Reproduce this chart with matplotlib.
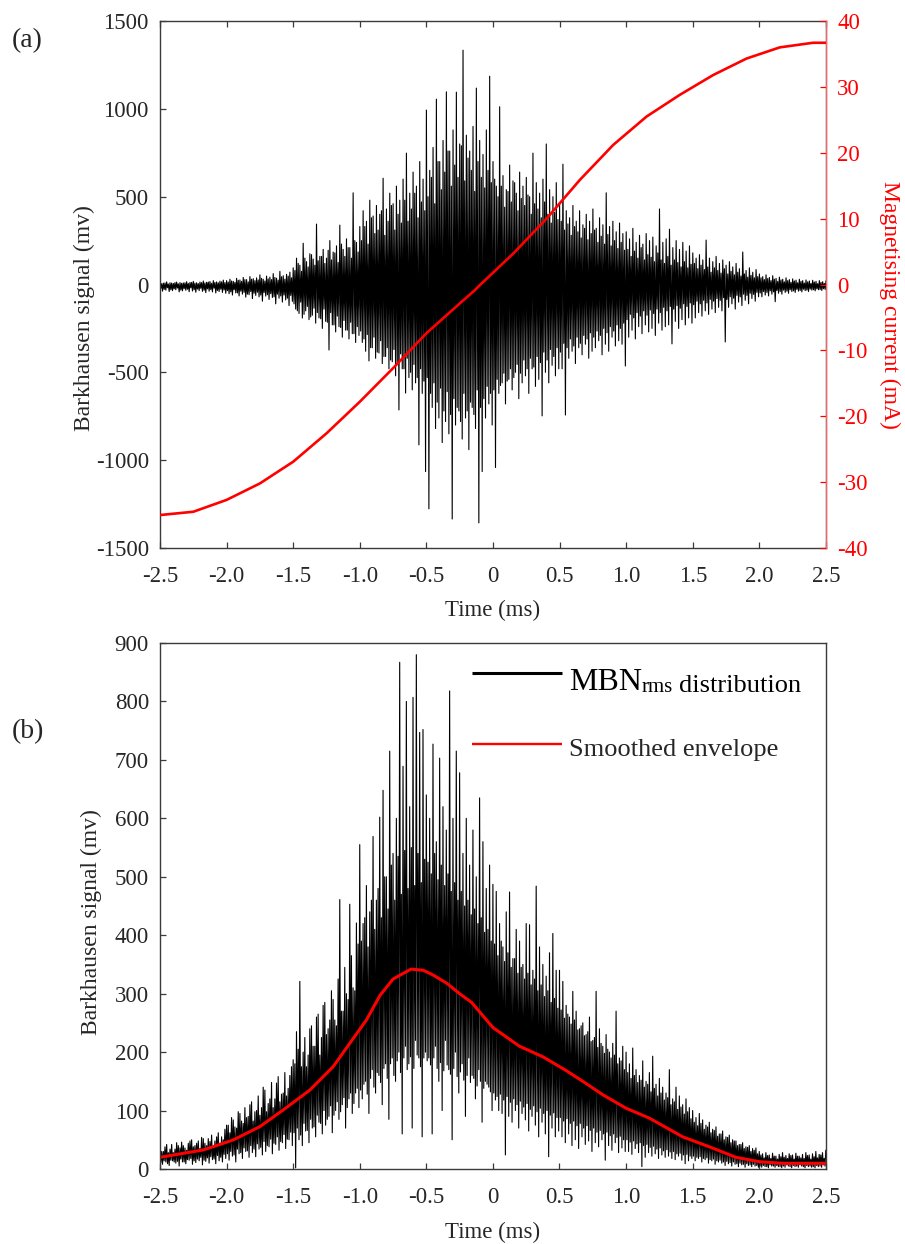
import numpy as np
import matplotlib
matplotlib.use("Agg")
import matplotlib.pyplot as plt

plt.rcParams['font.family'] = ['Liberation Serif', 'DejaVu Serif']
plt.rcParams['axes.unicode_minus'] = False

# ---------------- data ----------------
time_ticks = [-2.5, -2.0, -1.5, -1.0, -0.5, 0.0, 0.5, 1.0, 1.5, 2.0, 2.5]
time_tick_labels = ['-2.5', '-2.0', '-1.5', '-1.0', '-0.5', '0', '0.5', '1.0', '1.5', '2.0', '2.5']

# one record every 0.025 ms: peak, inner low, inner high, trough
t_peak = np.linspace(-2.5, 2.5, 201)
t_inner_low = t_peak[:-1] + 0.00625
t_inner_high = t_peak[:-1] + 0.0125
t_trough = t_peak[:-1] + 0.01875

# (a) raw Barkhausen signal (mV)
mbn_peaks = [
    12, 8, 15, 10, 6, 14, 11, 9, 16, 12, 18, 10, 14, 20, 13, 17, 22, 15, 19, 25,
    22, 30, 18, 35, 26, 40, 28, 45, 33, 38, 55, 30, 48, 42, 62, 36, 75, 50, 58, 70,
    95, 150, 110, 235, 130, 175, 145, 344, 160, 200, 150, 250, 185, 220, 338, 200, 260, 210, 522, 240,
    330, 420, 360, 480, 390, 450, 400, 605, 430, 520, 460, 560, 480, 600, 748, 520, 640, 560, 700, 600,
    993, 650, 780, 1055, 700, 820, 1097, 760, 880, 1095, 800, 1334, 850, 760, 900, 1118, 820, 740, 880, 1186,
    700, 560, 1012, 620, 540, 680, 590, 520, 640, 560, 610, 500, 748, 580, 520, 600, 800, 540, 500, 580,
    460, 685, 420, 380, 450, 360, 420, 340, 400, 360, 430, 320, 380, 340, 522, 330, 360, 300, 350, 290,
    300, 260, 320, 240, 280, 230, 290, 250, 270, 220, 430, 240, 260, 315, 210, 250, 200, 240, 190, 220,
    180, 150, 170, 140, 253, 150, 130, 160, 120, 140, 110, 130, 100, 120, 90, 185, 80, 95, 70, 85,
    60, 45, 55, 40, 50, 35, 42, 30, 38, 28, 32, 25, 30, 22, 26, 20, 24, 18, 22, 16, 20,
]
mbn_inner_low = [
    -22, -28, -18, -30, -25, -20, -32, -24, -27, -19, -30, -26, -22, -33, -25, -29, -21, -34, -27, -31,
    -35, -42, -30, -48, -38, -45, -55, -40, -50, -44, -60, -46, -58, -52, -70, -55, -65, -60, -78, -62,
    -110, -150, -100, -170, -125, -185, -135, -160, -195, -140, -215, -160, -230, -180, -245, -205, -260, -215, -280, -240,
    -265, -310, -285, -360, -300, -385, -320, -410, -360, -430, -370, -455, -395, -480, -420, -500, -455, -530, -480, -550,
    -530, -620, -560, -670, -590, -720, -610, -740, -650, -700, -780, -620, -720, -670, -740, -600, -700, -650, -580, -620,
    -600, -540, -575, -505, -550, -480, -530, -455, -505, -430, -480, -420, -470, -410, -445, -385, -430, -370, -410, -360,
    -385, -335, -360, -310, -350, -300, -335, -290, -310, -275, -300, -265, -290, -250, -275, -240, -265, -230, -250, -220,
    -200, -170, -190, -160, -180, -150, -175, -145, -165, -140, -160, -130, -150, -125, -140, -120, -135, -110, -125, -105,
    -115, -95, -110, -90, -105, -85, -95, -80, -90, -75, -85, -70, -78, -62, -70, -55, -62, -50, -56, -45,
    -48, -40, -45, -36, -42, -34, -40, -32, -38, -30, -36, -28, -34, -27, -32, -26, -30, -25, -29, -24,
]
mbn_inner_high = [
    5, 9, 3, 8, 11, 4, 7, 10, 6, 12, 8, 5, 11, 9, 14, 7, 12, 10, 15, 11,
    14, 20, 12, 24, 18, 28, 15, 30, 22, 26, 35, 20, 32, 28, 40, 25, 44, 30, 48, 38,
    80, 120, 75, 150, 100, 170, 110, 135, 160, 120, 195, 140, 180, 125, 230, 160, 210, 150, 250, 185,
    250, 330, 230, 380, 290, 310, 420, 280, 360, 450, 310, 400, 350, 480, 360, 430, 520, 380, 470, 420,
    500, 610, 460, 700, 540, 640, 760, 560, 680, 610, 790, 590, 720, 650, 530, 700, 610, 550, 650, 580,
    600, 500, 560, 440, 530, 470, 580, 420, 490, 450, 510, 400, 460, 430, 380, 470, 400, 350, 410, 370,
    360, 310, 345, 280, 330, 300, 265, 320, 255, 290, 310, 240, 275, 230, 285, 220, 250, 205, 240, 195,
    200, 160, 190, 150, 210, 140, 170, 155, 130, 180, 140, 120, 160, 110, 140, 125, 100, 130, 95, 115,
    120, 90, 110, 85, 100, 70, 95, 80, 65, 90, 60, 75, 55, 70, 48, 60, 42, 52, 38, 45,
    38, 28, 34, 22, 30, 18, 26, 15, 22, 12, 20, 10, 18, 8, 15, 6, 14, 5, 12, 6,
]
mbn_troughs = [
    -38, -32, -40, -35, -30, -42, -36, -33, -41, -37, -44, -35, -39, -46, -38, -42, -48, -40, -45, -50,
    -52, -60, -48, -65, -55, -72, -58, -80, -62, -70, -95, -66, -85, -74, -110, -78, -100, -88, -120, -96,
    -140, -165, -191, -150, -200, -175, -220, -190, -250, -210, -373, -230, -270, -240, -300, -260, -310, -280, -330, -290,
    -330, -380, -435, -360, -420, -390, -450, -410, -480, -440, -520, -714, -480, -618, -530, -600, -560, -913, -620, -1065,
    -1277, -700, -820, -760, -900, -780, -850, -1335, -800, -720, -880, -760, -940, -700, -820, -1357, -1065, -760, -680, -800,
    -1042, -620, -560, -680, -540, -600, -500, -650, -560, -520, -620, -480, -580, -540, -748, -500, -560, -460, -520, -480,
    -480, -743, -420, -380, -450, -360, -400, -340, -420, -380, -360, -320, -400, -340, -380, -300, -350, -320, -340, -464,
    -300, -260, -310, -240, -280, -230, -270, -250, -290, -220, -260, -240, -230, -338, -210, -250, -200, -230, -190, -220,
    -190, -160, -180, -150, -170, -140, -160, -130, -150, -327, -130, -110, -140, -100, -120, -90, -110, -80, -95, -70,
    -70, -60, -65, -55, -98, -50, -55, -45, -50, -40, -45, -38, -42, -35, -40, -32, -36, -30, -34, -28,
]

# (a) magnetising current (mA)
current_time = [-2.5, -2.25, -2.0, -1.75, -1.5, -1.25, -1.0, -0.75, -0.5, -0.248, -0.135,
                -0.098, 0.152, 0.402, 0.653, 0.903, 1.153, 1.403, 1.653, 1.903, 2.153, 2.403, 2.5]
current_ma = [-35.0, -34.5, -32.7, -30.2, -26.9, -22.6, -17.8, -12.7, -7.4, -2.85, -0.83,
              -0.08, 4.7, 10.0, 15.9, 21.2, 25.5, 28.8, 31.8, 34.3, 36.0, 36.7, 36.7]

# (b) MBN rms distribution (mV)
rms_peaks = [
    38, 30, 42, 34, 28, 45, 36, 40, 32, 48, 38, 44, 35, 52, 40, 47, 38, 55, 44, 50,
    75, 62, 84, 70, 95, 78, 88, 110, 82, 100, 92, 140, 98, 120, 105, 147, 115, 130, 125, 160,
    187, 235, 321, 200, 175, 240, 210, 260, 195, 280, 230, 255, 290, 245, 461, 270, 300, 453, 310, 421,
    555, 420, 485, 440, 569, 460, 602, 648, 500, 715, 540, 600, 867, 689, 800, 620, 807, 880, 747, 752,
    640, 600, 727, 560, 703, 620, 580, 818, 600, 715, 678, 540, 600, 520, 580, 500, 635, 560, 480, 520,
    487, 475, 420, 380, 440, 474, 360, 410, 390, 350, 420, 418, 340, 484, 380, 350, 330, 370, 403, 340,
    340, 321, 280, 260, 304, 270, 240, 250, 230, 260, 220, 304, 240, 210, 230, 200, 215, 270, 190, 210,
    200, 180, 207, 170, 160, 185, 150, 165, 193, 145, 155, 140, 130, 170, 120, 140, 125, 110, 120, 105,
    100, 88, 95, 84, 75, 80, 68, 72, 60, 65, 55, 58, 50, 48, 42, 45, 38, 40, 35, 36,
    30, 26, 28, 24, 27, 22, 25, 28, 23, 26, 24, 27, 22, 25, 28, 24, 26, 30, 25, 28, 32,
]
rms_inner_low = [
    11, 14, 9, 15, 12, 13, 17, 12, 16, 18, 14, 17, 20, 15, 19, 21, 17, 23, 20, 25,
    26, 30, 24, 34, 28, 36, 31, 40, 34, 43, 37, 47, 40, 51, 44, 55, 47, 59, 51, 63,
    62, 70, 58, 78, 66, 85, 72, 92, 78, 100, 85, 108, 92, 115, 98, 122, 105, 130, 112, 138,
    135, 145, 128, 155, 140, 165, 148, 172, 155, 180, 160, 185, 165, 190, 170, 192, 172, 195, 175, 190,
    185, 178, 190, 172, 182, 168, 178, 162, 172, 158, 166, 152, 160, 148, 155, 142, 150, 138, 145, 132,
    130, 124, 128, 118, 124, 114, 120, 110, 116, 106, 112, 102, 108, 98, 104, 95, 100, 92, 96, 88,
    88, 82, 86, 78, 82, 74, 78, 70, 74, 66, 70, 63, 66, 60, 63, 57, 60, 54, 56, 50,
    50, 46, 48, 43, 45, 40, 42, 37, 39, 34, 36, 31, 33, 29, 30, 26, 27, 24, 25, 22,
    22, 20, 21, 18, 19, 16, 17, 14, 15, 12, 13, 11, 12, 9, 10, 8, 9, 7, 8, 6,
    5, 6, 4, 7, 5, 6, 4, 5, 7, 4, 6, 5, 7, 4, 6, 5, 4, 6, 5, 7,
]
rms_inner_high = [
    30, 38, 28, 42, 34, 40, 46, 36, 44, 50, 40, 48, 54, 44, 52, 58, 48, 62, 55, 68,
    75, 88, 72, 98, 82, 105, 90, 115, 98, 125, 105, 135, 112, 148, 120, 158, 128, 165, 138, 175,
    180, 205, 175, 225, 195, 245, 210, 265, 225, 285, 240, 305, 255, 325, 270, 345, 290, 365, 305, 385,
    390, 430, 380, 460, 410, 480, 430, 500, 445, 520, 460, 535, 470, 545, 480, 550, 485, 540, 490, 530,
    525, 505, 540, 495, 520, 485, 505, 475, 490, 460, 475, 450, 460, 435, 445, 420, 430, 405, 410, 390,
    385, 365, 390, 355, 370, 345, 360, 335, 345, 325, 335, 315, 325, 305, 315, 295, 305, 285, 292, 275,
    272, 258, 265, 248, 255, 238, 245, 228, 235, 218, 225, 208, 215, 198, 205, 190, 195, 180, 185, 170,
    165, 155, 160, 148, 152, 140, 145, 132, 138, 125, 130, 118, 122, 110, 115, 102, 106, 94, 98, 86,
    80, 74, 78, 68, 72, 62, 66, 56, 60, 50, 54, 45, 48, 40, 42, 35, 37, 30, 32, 26,
    24, 19, 23, 18, 22, 17, 21, 20, 18, 23, 17, 22, 19, 18, 23, 17, 21, 19, 24, 18,
]
rms_troughs = [
    8, 12, 6, 14, 10, 5, 12, 9, 15, 8, 11, 14, 7, 13, 10, 16, 9, 14, 12, 18,
    15, 22, 12, 26, 18, 30, 20, 28, 21, 34, 24, 30, 38, 26, 42, 32, 45, 35, 50, 40,
    2, 50, 40, 65, 45, 70, 55, 80, 60, 75, 90, 62, 100, 85, 110, 70, 120, 95, 130, 105,
    120, 150, 95, 170, 130, 160, 110, 180, 85, 190, 150, 200, 60, 210, 180, 70, 220, 190, 55, 200,
    190, 60, 210, 150, 100, 220, 170, 50, 200, 130, 180, 90, 190, 160, 120, 170, 80, 150, 140, 100,
    118, 100, 95, 24, 90, 80, 100, 70, 95, 84, 65, 90, 75, 55, 80, 60, 21, 70, 55, 65,
    55, 45, 60, 40, 50, 35, 55, 42, 48, 30, 45, 38, 50, 15, 40, 32, 45, 28, 36, 30,
    30, 25, 35, 28, 4, 20, 28, 22, 26, 18, 24, 20, 22, 18, 16, 22, 15, 9, 14, 18,
    14, 18, 12, 16, 10, 14, 8, 12, 10, 6, 9, 5, 8, 4, 7, 3, 6, 4, 5, 3,
    3, 4, 2, 5, 3, 4, 2, 3, 5, 2, 4, 3, 5, 2, 4, 3, 2, 4, 3, 5,
]

# (b) smoothed envelope (mV)
envelope_time = [-2.5, -2.175, -1.95, -1.75, -1.575, -1.375, -1.2, -1.075, -0.95, -0.848,
                 -0.75, -0.615, -0.523, -0.45, -0.348, -0.25, -0.16, 0.0, 0.2, 0.375,
                 0.553, 0.675, 0.825, 1.0, 1.175, 1.425, 1.625, 1.825, 2.0, 2.175, 2.5]
envelope_mv = [20, 32.6, 49.7, 72.5, 101, 135, 175, 215, 255, 297,
               325, 342, 340, 332, 318, 300, 285, 242, 210, 192,
               168, 150, 127, 104, 87, 55, 38, 20, 12.5, 9.7, 9.7]


def to_trace(peaks, inner_low, inner_high, troughs):
    """Merge the four sample lists into one time-ordered trace."""
    n = len(peaks)
    t = np.empty(n + 3 * (n - 1))
    v = np.empty_like(t)
    t[0::4], v[0::4] = t_peak, peaks
    t[1::4], v[1::4] = t_inner_low, inner_low
    t[2::4], v[2::4] = t_inner_high, inner_high
    t[3::4], v[3::4] = t_trough, troughs
    return t, v


# ---------------- styling helpers ----------------
FS = 16.5
DARK = '#262626'
SPINE = '#3a3a3a'
RED = '#ff0000'
SIGNAL_LW = 0.8


def style_axes(ax):
    for s in ax.spines.values():
        s.set_color(SPINE)
        s.set_linewidth(1.0)
    ax.tick_params(direction='in', length=4, width=0.9, colors=SPINE,
                   labelcolor=DARK, labelsize=FS)
    ax.tick_params(axis='y', pad=8)
    ax.tick_params(axis='x', pad=13)
    ax.set_xlim(-2.5, 2.5)
    ax.set_xticks(time_ticks)
    ax.set_xticklabels(time_tick_labels)


fig = plt.figure(figsize=(9.05, 12.44), dpi=100)
fig.patch.set_facecolor('white')

# ---------------- panel (a) ----------------
ax_a = fig.add_axes([0.1768, 0.5595, 0.7359, 0.4236])
style_axes(ax_a)
ta, va = to_trace(mbn_peaks, mbn_inner_low, mbn_inner_high, mbn_troughs)
ax_a.plot(ta, va, color='black', lw=SIGNAL_LW)
ax_a.set_ylim(-1500, 1500)
ax_a.set_yticks([-1500, -1000, -500, 0, 500, 1000, 1500])
ax_a.set_yticklabels(['-1500', '-1000', '-500', '0', '500', '1000', '1500'])
ax_a.tick_params(top=True, right=False)
ax_a.set_xlabel('Time (ms)', fontsize=FS, color=DARK)
ax_a.xaxis.set_label_coords(0.5, -0.099)
ax_a.set_ylabel('Barkhausen signal (mv)', fontsize=17, color=DARK, va='center')
ax_a.yaxis.set_label_coords(-0.114, 0.436)

ax_c = ax_a.twinx()
ax_c.plot(current_time, current_ma, color=RED, lw=1.9, solid_joinstyle='round')
ax_c.set_ylim(-40, 40)
ax_c.set_yticks([-40, -30, -20, -10, 0, 10, 20, 30, 40])
ax_c.set_yticklabels(['-40', '-30', '-20', '-10', '0', '10', '20', '30', '40'])
ax_c.tick_params(axis='y', direction='in', length=4, width=0.9, colors=RED,
                 labelcolor=RED, labelsize=FS, pad=8)
for name, s in ax_c.spines.items():
    s.set_visible(name == 'right')
ax_c.spines['right'].set_color('#ff6060')
ax_c.set_ylabel('Magnetising current (mA)', fontsize=17, color=RED,
                rotation=-90, va='center')
ax_c.yaxis.set_label_coords(1.095, 0.462)

fig.text(12 / 905, 1 - 41 / 1244, '(a)', fontsize=20, color=DARK, va='center', ha='left')

# ---------------- panel (b) ----------------
ax_b = fig.add_axes([0.1768, 0.0603, 0.7357, 0.4228])
style_axes(ax_b)
tb, vb = to_trace(rms_peaks, rms_inner_low, rms_inner_high, rms_troughs)
ax_b.plot(tb, vb, color='black', lw=SIGNAL_LW)
ax_b.plot(envelope_time, envelope_mv, color=RED, lw=2.2, solid_joinstyle='round')
ax_b.set_ylim(0, 900)
ax_b.set_yticks(range(0, 901, 100))
ax_b.set_yticklabels([str(v) for v in range(0, 901, 100)])
ax_b.tick_params(top=False, right=False)
ax_b.set_xlabel('Time (ms)', fontsize=FS, color=DARK)
ax_b.xaxis.set_label_coords(0.5, -0.101)
ax_b.set_ylabel('Barkhausen signal (mv)', fontsize=17, color=DARK, va='center')
ax_b.yaxis.set_label_coords(-0.1026, 0.469)

# legend
ax_b.plot([0.468, 0.604], [0.9435, 0.9435], color='black', lw=2.2,
          transform=ax_b.transAxes, solid_capstyle='butt')
ax_b.plot([0.468, 0.604], [0.808, 0.808], color=RED, lw=1.7,
          transform=ax_b.transAxes, solid_capstyle='butt')
t_mbn = ax_b.text(0.614, 0.9106, 'MBN', fontsize=23, color='black',
                  transform=ax_b.transAxes, va='baseline', ha='left')
t_rms = ax_b.annotate('rms', xy=(1, 0), xycoords=t_mbn, fontsize=15,
                      color='black', va='bottom', ha='left')
ax_b.annotate('distribution', xy=(1, 0), xycoords=t_rms, xytext=(4, 0),
              textcoords='offset points', fontsize=19, color='black',
              va='bottom', ha='left')
ax_b.text(0.614, 0.785, 'Smoothed envelope', fontsize=19, color=DARK,
          transform=ax_b.transAxes, va='baseline', ha='left')

fig.text(12 / 905, 1 - 732 / 1244, '(b)', fontsize=20, color=DARK, va='center', ha='left')

fig.savefig('out.png', dpi=100, facecolor='white')
